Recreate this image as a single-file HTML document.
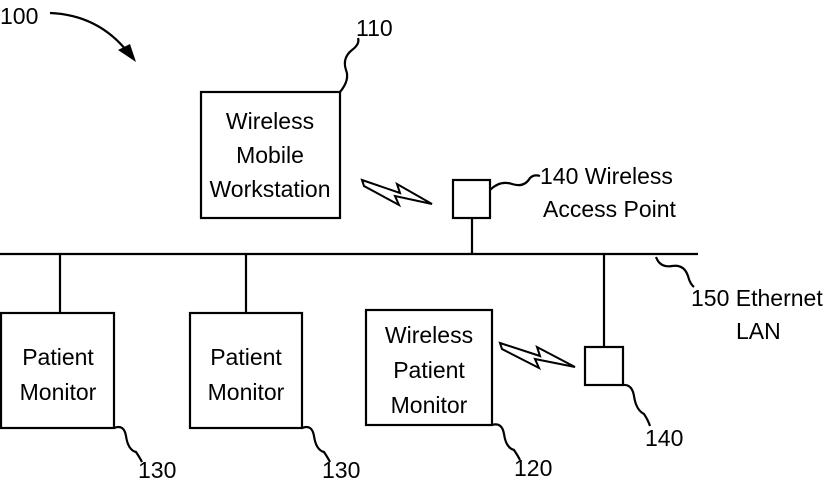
<!DOCTYPE html>
<html><head><style>
html,body{margin:0;padding:0;background:#fff;}
svg{display:block;}
text{font-family:"Liberation Sans",sans-serif;font-size:23px;fill:#000;}
</style></head><body>
<svg width="828" height="480" viewBox="0 0 828 480" xmlns="http://www.w3.org/2000/svg">
<g fill="none" stroke="#000" stroke-width="2.2">
<!-- 100 arrow -->
<path d="M50 13 Q100 15 130 55"/>
<!-- main bus -->
<line x1="0" y1="254" x2="698" y2="254"/>
<!-- workstation box -->
<rect x="201" y="92" width="139" height="126"/>
<!-- AP box -->
<rect x="453" y="180" width="37" height="38"/>
<line x1="472" y1="218" x2="472" y2="254"/>
<!-- drops -->
<line x1="60" y1="254" x2="60" y2="313"/>
<line x1="246" y1="254" x2="246" y2="313"/>
<line x1="604" y1="254" x2="604" y2="347"/>
<!-- patient monitors -->
<rect x="1" y="313" width="113" height="115"/>
<rect x="190" y="313" width="112" height="115"/>
<rect x="366" y="310" width="126" height="115"/>
<rect x="585" y="347" width="38" height="38"/>
<!-- squiggles -->
<path d="M340 92 Q350 80 346 70 Q342 58 352 50 Q360 44 358 38"/>
<path d="M490 190 Q500 180 512 184 Q524 188 530 178 Q534 174 540 176"/>
<path d="M656 257 Q660 268 672 266 Q684 264 688 276 Q690 284 694 287"/>
<path d="M114 428 Q124 424 126 436 Q128 450 136 452 Q140 458 142 462"/>
<path d="M302 428 Q312 424 314 436 Q316 450 324 452 Q328 458 330 462"/>
<path d="M492 425 Q502 422 504 434 Q506 448 514 450 Q518 456 520 460"/>
<path d="M623 385 Q632 384 634 396 Q636 410 644 414 Q648 420 650 426"/>
</g>
<!-- arrowhead -->
<polygon points="136,62 118,50 130,44" fill="#000"/>
<!-- lightning bolts -->
<polygon points="362,180 400,193 397,184 432,204 395,196 399,205 364,186" fill="#fff" stroke="#000" stroke-width="2"/>
<polygon points="500,343 540,356 537,347 575,367 535,359 539,368 502,349" fill="#fff" stroke="#000" stroke-width="2"/>
<!-- labels -->
<text x="0" y="24">100</text>
<text x="356" y="36">110</text>
<text x="270" y="129" text-anchor="middle">Wireless</text>
<text x="270" y="163" text-anchor="middle">Mobile</text>
<text x="270" y="197" text-anchor="middle">Workstation</text>
<text x="540" y="184">140 Wireless</text>
<text x="543" y="217">Access Point</text>
<text x="691" y="306">150 Ethernet</text>
<text x="736" y="339">LAN</text>
<text x="58" y="365" text-anchor="middle">Patient</text>
<text x="58" y="400" text-anchor="middle">Monitor</text>
<text x="246" y="365" text-anchor="middle">Patient</text>
<text x="246" y="400" text-anchor="middle">Monitor</text>
<text x="429" y="343" text-anchor="middle">Wireless</text>
<text x="429" y="378" text-anchor="middle">Patient</text>
<text x="429" y="413" text-anchor="middle">Monitor</text>
<text x="138" y="478">130</text>
<text x="322" y="478">130</text>
<text x="514" y="476">120</text>
<text x="645" y="446">140</text>
</svg>
</body></html>
